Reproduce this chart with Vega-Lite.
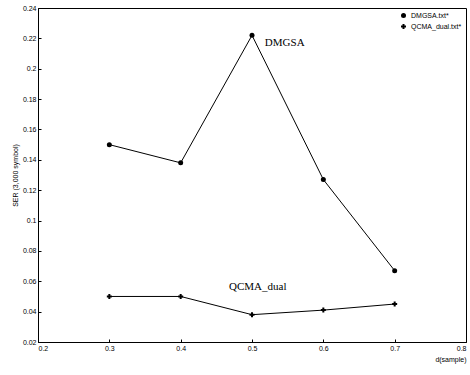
{
  "$schema": "https://vega.github.io/schema/vega-lite/v6.json",
  "width": 428,
  "height": 334,
  "autosize": "none",
  "padding": {"left": 38, "top": 8, "right": 4, "bottom": 33},
  "background": "white",
  "config": {
    "view": {"stroke": "black", "strokeWidth": 1},
    "axis": {"grid": false, "domainColor": "black", "tickColor": "black", "labelColor": "black", "titleColor": "black", "labelFont": "Liberation Sans", "titleFont": "Liberation Sans", "labelFontSize": 7, "titleFontSize": 7, "titleFontWeight": "normal", "tickSize": -3, "labelPadding": 5, "labelOverlap": false, "labelBound": false}
  },
  "datasets": {
    "series": [
      {"d": 0.3, "ser": 0.150, "method": "DMGSA.txt*"},
      {"d": 0.4, "ser": 0.138, "method": "DMGSA.txt*"},
      {"d": 0.5, "ser": 0.222, "method": "DMGSA.txt*"},
      {"d": 0.6, "ser": 0.127, "method": "DMGSA.txt*"},
      {"d": 0.7, "ser": 0.067, "method": "DMGSA.txt*"},
      {"d": 0.3, "ser": 0.050, "method": "QCMA_dual.txt*"},
      {"d": 0.4, "ser": 0.050, "method": "QCMA_dual.txt*"},
      {"d": 0.5, "ser": 0.038, "method": "QCMA_dual.txt*"},
      {"d": 0.6, "ser": 0.041, "method": "QCMA_dual.txt*"},
      {"d": 0.7, "ser": 0.045, "method": "QCMA_dual.txt*"}
    ],
    "notesLeft": [
      {"d": 0.518, "ser": 0.217, "label": "DMGSA"}
    ],
    "notesCenter": [
      {"d": 0.508, "ser": 0.0565, "label": "QCMA_dual"}
    ]
  },
  "encoding": {
    "x": {"field": "d", "type": "quantitative", "scale": {"domain": [0.2, 0.8], "nice": false, "zero": false}, "axis": {"title": "d(sample)", "values": [0.2, 0.3, 0.4, 0.5, 0.6, 0.7, 0.8], "format": ".1f", "titleAnchor": "end", "titlePadding": 4, "labelOverlap": false}},
    "y": {"field": "ser", "type": "quantitative", "scale": {"domain": [0.02, 0.24], "nice": false, "zero": false}, "axis": {"title": "SER (3,000 symbol)", "values": [0.02, 0.04, 0.06, 0.08, 0.1, 0.12, 0.14, 0.16, 0.18, 0.2, 0.22, 0.24], "format": ".2~f", "titleAnchor": "middle", "titlePadding": 4, "labelOverlap": false}}
  },
  "layer": [
    {
      "data": {"name": "series"},
      "mark": {"type": "line", "color": "black", "strokeWidth": 1},
      "encoding": {
        "detail": {"field": "method", "type": "nominal"}
      }
    },
    {
      "data": {"name": "series"},
      "mark": {"type": "point", "filled": true, "color": "black", "opacity": 1},
      "encoding": {
        "shape": {"field": "method", "type": "nominal", "scale": {"range": ["circle", "cross"]}, "legend": {"title": null, "orient": "top-right", "offset": 4, "labelFontSize": 7, "labelFont": "Liberation Sans", "symbolSize": 25, "symbolFillColor": "black", "symbolStrokeColor": "black", "rowPadding": 0}},
        "size": {"value": 25}
      }
    },
    {
      "data": {"name": "notesLeft"},
      "mark": {"type": "text", "font": "Liberation Serif", "fontSize": 11, "color": "black", "align": "left"},
      "encoding": {
        "text": {"field": "label"}
      }
    },
    {
      "data": {"name": "notesCenter"},
      "mark": {"type": "text", "font": "Liberation Serif", "fontSize": 11, "color": "black", "align": "center"},
      "encoding": {
        "text": {"field": "label"}
      }
    }
  ]
}
